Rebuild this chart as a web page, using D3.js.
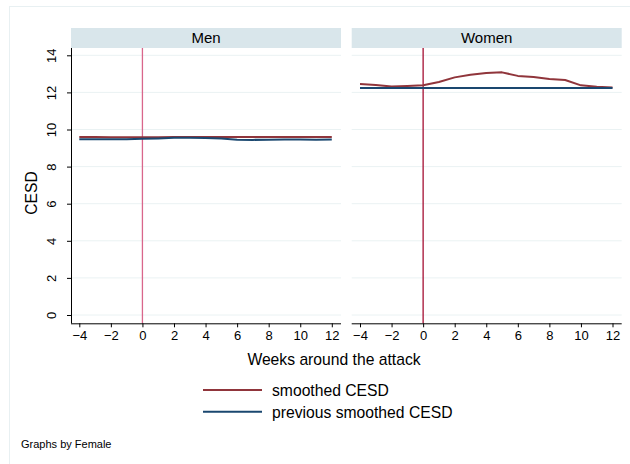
<!DOCTYPE html>
<html><head><meta charset="utf-8">
<script src="https://cdn.jsdelivr.net/npm/d3@7"></script>
<style>body{margin:0;background:#fff}svg{display:block}text{font-family:"Liberation Sans",Arial,Helvetica,sans-serif;fill:#000}</style>
</head><body>
<script>
const weeks = d3.range(-4, 13);
const panels = ["Men", "Women"];
const menSmoothed = [9.59,9.59,9.58,9.58,9.58,9.58,9.59,9.6,9.6,9.59,9.59,9.59,9.59,9.6,9.6,9.6,9.6];
const menPrevious = [9.47,9.47,9.47,9.48,9.5,9.52,9.55,9.55,9.54,9.51,9.45,9.44,9.45,9.46,9.46,9.45,9.46];
const womenSmoothed = [12.45,12.4,12.32,12.35,12.38,12.56,12.81,12.95,13.05,13.08,12.89,12.83,12.72,12.67,12.38,12.31,12.27];
const womenPrevious = [12.24,12.24,12.24,12.24,12.24,12.24,12.24,12.24,12.24,12.24,12.24,12.24,12.24,12.24,12.24,12.24,12.24];
const yTicks = [0,2,4,6,8,10,12,14];
const xTicks = [-4,-2,0,2,4,6,8,10,12];
const seriesNames = ["smoothed CESD", "previous smoothed CESD"];
const seriesColors = ["#90353b", "#1a476f"];
const vlineColors = ["#d9668b", "#a50f33"];
const panelData = [[menSmoothed, menPrevious], [womenSmoothed, womenPrevious]];

const W = 630, H = 464;
const svg = d3.select("body").append("svg").attr("width", W).attr("height", H);
svg.append("rect").attr("x", 9.5).attr("y", 6.5).attr("width", 700).attr("height", 600)
  .attr("fill", "none").attr("stroke", "#e8f0f2").attr("stroke-width", 1);

const panelLeft = [71, 351.7], panelW = 270;
const plotTop = 48, plotBottom = 323.3, headTop = 28;
const y = d3.scaleLinear().domain([0, 14]).range([315, 55.3]);
const fmt = d => d < 0 ? "\u2212" + Math.abs(d) : String(d);

panels.forEach((name, i) => {
  const L = panelLeft[i];
  const x = d3.scaleLinear().domain([-4, 12]).range([L + 8.3, L + panelW - 9.2]);
  const g = svg.append("g");
  g.append("rect").attr("x", L).attr("y", headTop).attr("width", panelW).attr("height", plotTop - headTop).attr("fill", "#d9e6eb");
  g.append("text").attr("x", L + panelW / 2).attr("y", 42.5).attr("text-anchor", "middle").attr("font-size", 15).text(name);
  g.selectAll(".grid").data(yTicks).join("line")
    .attr("x1", L).attr("x2", L + panelW).attr("y1", d => y(d)).attr("y2", d => y(d))
    .attr("stroke", "#eaf2f3").attr("stroke-width", 1);
  g.append("line").attr("x1", x(0)).attr("x2", x(0)).attr("y1", plotTop).attr("y2", plotBottom)
    .attr("stroke", vlineColors[i]).attr("stroke-width", 1.3);
  const line = d3.line().x((d, k) => x(weeks[k])).y(d => y(d));
  panelData[i].forEach((vals, s) => {
    g.append("path").attr("d", line(vals)).attr("fill", "none")
      .attr("stroke", seriesColors[s]).attr("stroke-width", 2).attr("stroke-linejoin", "round");
  });
  const xa = g.append("g").attr("transform", `translate(0,${plotBottom})`)
    .call(d3.axisBottom(x).tickValues(xTicks).tickSize(4).tickPadding(3).tickFormat(fmt));
  xa.select(".domain").attr("d", `M${L},0.5H${L + panelW}`).attr("stroke", "#000");
  xa.selectAll("text").attr("font-size", 13).attr("font-family", '"Liberation Sans",Arial,sans-serif');
  if (i === 0) {
    const ya = g.append("g").attr("transform", `translate(${L},0)`)
      .call(d3.axisLeft(y).tickValues(yTicks).tickSize(4).tickFormat(fmt));
    ya.select(".domain").attr("d", `M0.5,${plotTop}V${plotBottom}`).attr("stroke", "#000");
    ya.selectAll("text").remove();
    ya.selectAll(".tick").append("text").attr("transform", "translate(-15.5,0) rotate(-90)")
      .attr("text-anchor", "middle").attr("font-size", 13).attr("fill", "#000")
      .attr("font-family", '"Liberation Sans",Arial,sans-serif').text(fmt);
  }
});

svg.append("text").attr("transform", "translate(37,193) rotate(-90)").attr("text-anchor", "middle")
  .attr("font-size", 15.7).text("CESD");
svg.append("text").attr("x", 334).attr("y", 365).attr("text-anchor", "middle").attr("font-size", 15.7)
  .text("Weeks around the attack");

const lg = svg.append("g");
seriesNames.forEach((n, s) => {
  const yy = 390 + s * 21.7;
  lg.append("line").attr("x1", 203).attr("x2", 262).attr("y1", yy).attr("y2", yy)
    .attr("stroke", seriesColors[s]).attr("stroke-width", 2);
  lg.append("text").attr("x", 272).attr("y", yy + 6).attr("font-size", 15.7).text(n);
});
svg.append("text").attr("x", 21).attr("y", 448).attr("font-size", 11).text("Graphs by Female");
</script>
</body></html>
